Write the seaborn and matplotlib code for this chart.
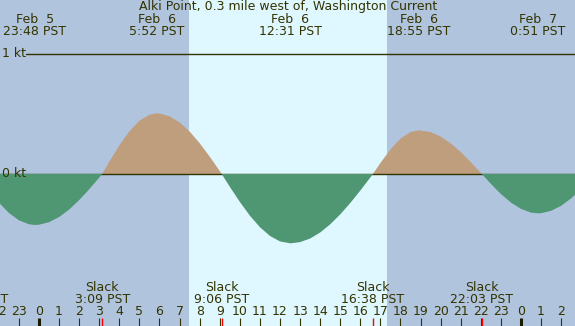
import matplotlib
matplotlib.use("Agg")
import matplotlib.pyplot as plt
import seaborn as sns
import pandas as pd

# hours relative to Feb 6 0:00 PST, current in knots
hours = [-2.0, -1.5, -1.0, -0.5, -0.2, 0.0, 0.5, 1.0, 1.5, 2.0, 2.5, 3.0, 3.15,
         3.5, 4.0, 4.5, 5.0, 5.5, 5.87, 6.0, 6.5, 7.0, 7.5, 8.0, 8.5, 9.0, 9.1,
         9.5, 10.0, 10.5, 11.0, 11.5, 12.0, 12.52, 13.0, 13.5, 14.0, 14.5, 15.0,
         15.5, 16.0, 16.5, 16.63, 17.0, 17.5, 18.0, 18.5, 18.92, 19.5, 20.0,
         20.5, 21.0, 21.5, 22.0, 22.05, 22.5, 23.0, 23.5, 24.0, 24.5, 24.85,
         25.0, 25.5, 26.0, 26.5, 27.0]
knots = [-0.238, -0.324, -0.386, -0.419, -0.425, -0.423, -0.402, -0.359, -0.297,
         -0.218, -0.128, -0.030, 0.0,
         0.101, 0.238, 0.355, 0.443, 0.494, 0.505, 0.504, 0.481, 0.430, 0.354,
         0.257, 0.145, 0.025, 0.0,
         -0.106, -0.232, -0.347, -0.443, -0.516, -0.562, -0.578, -0.568, -0.538,
         -0.488, -0.420, -0.337, -0.242, -0.138, -0.029, 0.0,
         0.091, 0.204, 0.294, 0.349, 0.364, 0.349, 0.312, 0.255, 0.183, 0.099,
         0.009, 0.0,
         -0.082, -0.167, -0.238, -0.291, -0.322, -0.328, -0.327, -0.307, -0.265,
         -0.203, -0.126]

# max current events (top labels)
max_times = [-0.2, 5.87, 12.52, 18.92, 24.85]
max_dates = ["Feb  5", "Feb  6", "Feb  6", "Feb  6", "Feb  7"]
max_labels = ["23:48 PST", "5:52 PST", "12:31 PST", "18:55 PST", "0:51 PST"]

# slack events (bottom labels)
slack_times = [-3.1, 3.15, 9.1, 16.63, 22.05]
slack_labels = ["20:54 PST", "3:09 PST", "9:06 PST", "16:38 PST", "22:03 PST"]

# daylight
sunrise = 7.47
sunset = 17.33

hour_ticks = list(range(-2, 27))

title = "Alki Point, 0.3 mile west of, Washington Current"

night = "#b0c4de"
day = "#dff7ff"
flood = "#bf9e7d"
ebb = "#4f9672"
ink = "#333300"

sns.set_style("white")
plt.rcParams["font.family"] = ["DejaVu Sans"]

df = pd.DataFrame({"hour": hours, "knots": knots})

fig = plt.figure(figsize=(5.75, 3.26), dpi=100)
ax = fig.add_axes([0, 0, 1, 1])
ax.set_facecolor(night)
x0, x1 = -1.94, 26.69
y0, y1 = -1.267, 1.45
ax.axvspan(sunrise, sunset, color=day, lw=0, zorder=0)

ax.fill_between(df["hour"], df["knots"], 0, where=df["knots"] >= 0,
                interpolate=True, color=flood, lw=0, zorder=2)
ax.axhline(0, color=ink, lw=1.0, zorder=3)
ax.fill_between(df["hour"], df["knots"], 0, where=df["knots"] <= 0,
                interpolate=True, color=ebb, lw=0, zorder=4)
sns.lineplot(data=df, x="hour", y="knots", ax=ax, lw=0, legend=False)

ax.axhline(1, xmin=26 / 575, xmax=1, color=ink, lw=1.0, zorder=3)
ax.text(2 * (x1 - x0) / 575 + x0, 1, "1 kt", color=ink, fontsize=9,
        va="center", ha="left")
ax.text(2 * (x1 - x0) / 575 + x0, 0, "0 kt", color=ink, fontsize=9,
        va="center", ha="left", zorder=5)

ax.text(12.4, 1.394, title, color=ink, fontsize=9, ha="center", va="center")
for t, d, lab in zip(max_times, max_dates, max_labels):
    ax.text(t, 1.289, d, color=ink, fontsize=9, ha="center", va="center")
    ax.text(t, 1.186, lab, color=ink, fontsize=9, ha="center", va="center")

for t, lab in zip(slack_times, slack_labels):
    ax.text(t, -0.944, "Slack", color=ink, fontsize=9, ha="center", va="center")
    ax.text(t, -1.044, lab, color=ink, fontsize=9, ha="center", va="center")

tick_h = 8 / 120
for h in hour_ticks:
    ax.text(h, -1.146, str(h % 24), color=ink, fontsize=9, ha="center",
            va="center")
    if h % 24 == 0:
        ax.vlines(h, y0, y0 + tick_h, color="#1a1a00", lw=2.2, zorder=5)
    else:
        ax.vlines(h, y0, y0 + tick_h, color=ink, lw=0.8, zorder=5)
for t in slack_times:
    ax.vlines(t, y0, y0 + tick_h, color="red", lw=1.0, zorder=6)

ax.set_xlim(x0, x1)
ax.set_ylim(y0, y1)
ax.set_xticks([])
ax.set_yticks([])
ax.set_xlabel("")
ax.set_ylabel("")
for s in ax.spines.values():
    s.set_visible(False)

fig.savefig("out.png", dpi=100)
